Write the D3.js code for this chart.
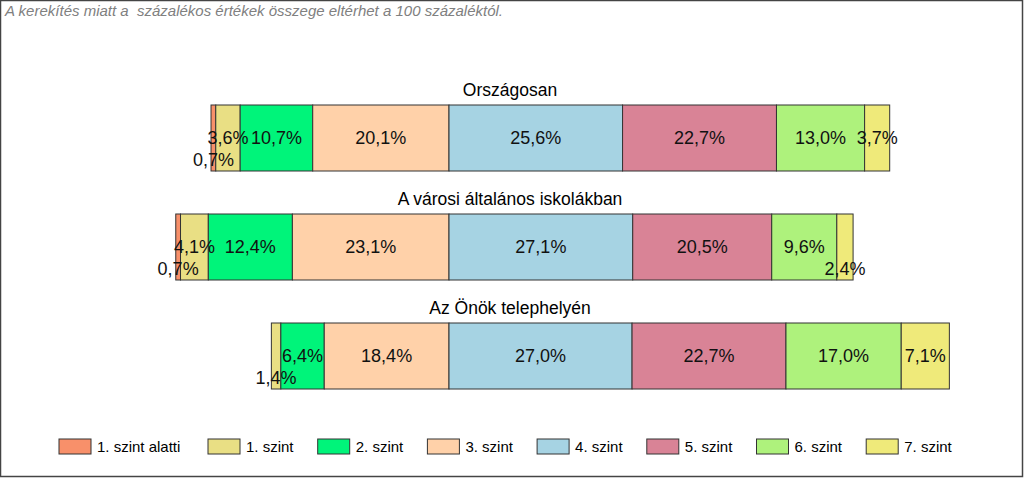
<!DOCTYPE html>
<html>
<head>
<meta charset="utf-8">
<script src="https://cdn.jsdelivr.net/npm/d3@7"></script>
<style>
  body { margin: 0; background: #fff; }
  svg { display: block; font-family: "Liberation Sans", Arial, sans-serif; }
</style>
</head>
<body>
<svg id="chart" width="1024" height="478"></svg>
<script>
// levels (legend order) and their fill colours
const levels = ["1. szint alatti", "1. szint", "2. szint", "3. szint", "4. szint", "5. szint", "6. szint", "7. szint"];
const levelColors = ["#F8906A", "#E9DF84", "#00F47A", "#FFD1A9", "#A6D3E3", "#D98396", "#AEF27C", "#EFEA7A"];

// row titles
const rows = ["Országosan", "A városi általános iskolákban", "Az Önök telephelyén"];

// percentages per row, in level order
const orszagosan = [0.7, 3.6, 10.7, 20.1, 25.6, 22.7, 13.0, 3.7];
const varosi     = [0.7, 4.1, 12.4, 23.1, 27.1, 20.5, 9.6, 2.4];
const telephely  = [0.0, 1.4, 6.4, 18.4, 27.0, 22.7, 17.0, 7.1];
const rowValues = [orszagosan, varosi, telephely];

const note = "A kerekítés miatt a  százalékos értékek összege eltérhet a 100 százaléktól.";

const svg = d3.select("#chart");

// outer frame
svg.append("rect")
  .attr("x", 0.5).attr("y", 0.5)
  .attr("width", 1022).attr("height", 476)
  .attr("fill", "#fff").attr("stroke", "#444").attr("stroke-width", 1.5);

svg.append("text")
  .attr("x", 5).attr("y", 16)
  .attr("font-size", 15).attr("font-style", "italic")
  .attr("fill", "#808080")
  .style("white-space", "pre")
  .text(note);

// 0 = boundary between 3. and 4. szint
const x = d3.scaleLinear().domain([-40, 60]).range([177.8, 855.8]);
const y = d3.scaleBand().domain(rows).range([105, 389]).paddingInner(43 / 109).paddingOuter(0);

const fmt = v => v.toFixed(1).replace(".", ",") + "%";

rows.forEach(function(r, i) {
  const vals = rowValues[i];
  const leftSum = d3.sum(vals.slice(0, 4));
  let acc = -leftSum;
  const segs = vals.map(function(v, k) {
    const s = {level: levels[k], color: levelColors[k], v: v, x0: acc, x1: acc + v};
    acc += v;
    return s;
  }).filter(s => s.v > 0);

  const g = svg.append("g");

  g.append("text")
    .attr("x", 510).attr("y", y(r) - 9)
    .attr("text-anchor", "middle")
    .attr("font-size", 17.5)
    .attr("fill", "#000")
    .text(r);

  g.selectAll("rect")
    .data(segs)
    .join("rect")
    .attr("x", d => x(d.x0))
    .attr("y", y(r))
    .attr("width", d => x(d.x1) - x(d.x0))
    .attr("height", y.bandwidth())
    .attr("fill", d => d.color)
    .attr("stroke", "#333")
    .attr("stroke-width", 1);

  g.selectAll("text.val")
    .data(segs)
    .join("text")
    .attr("class", "val")
    .attr("x", d => (x(d.x0) + x(d.x1)) / 2)
    .attr("y", d => y(r) + y.bandwidth() / 2 + (d.v < 3 ? 22 : 0))
    .attr("dy", "0.35em")
    .attr("text-anchor", "middle")
    .attr("font-size", 18)
    .attr("fill", "#111")
    .text(d => fmt(d.v));
});

// legend: first entry is wider, the rest sit on an even step
const legendX = i => 59 + (i > 0 ? 149 + (i - 1) * 109.7 : 0);
const legend = svg.append("g").attr("transform", "translate(0,439)");
const item = legend.selectAll("g")
  .data(levels)
  .join("g")
  .attr("transform", (d, i) => "translate(" + legendX(i) + ",0)");

item.append("rect")
  .attr("width", 32).attr("height", 15)
  .attr("fill", (d, i) => levelColors[i])
  .attr("stroke", "#333").attr("stroke-width", 1);

item.append("text")
  .attr("x", 38).attr("y", 7.5)
  .attr("dy", "0.35em")
  .attr("font-size", 15)
  .attr("fill", "#000")
  .text(d => d);
</script>
</body>
</html>
